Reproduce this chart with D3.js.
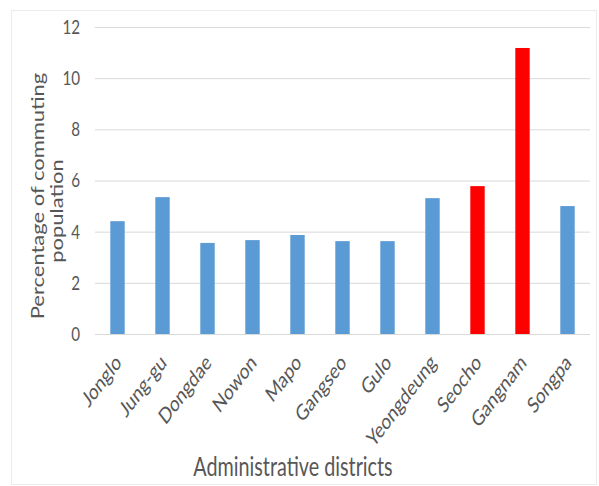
<!DOCTYPE html>
<html>
<head>
<meta charset="utf-8">
<script src="https://cdn.jsdelivr.net/npm/d3@7"></script>
<style>
  html, body { margin: 0; padding: 0; background: #fff; }
  svg { display: block; }
</style>
</head>
<body>
<svg id="chart" width="599" height="486"></svg>
<script>
// Share of commuting population by administrative district (Seoul)
const districts = ["Jonglo", "Jung-gu", "Dongdae", "Nowon", "Mapo", "Gangseo", "Gulo", "Yeongdeung", "Seocho", "Gangnam", "Songpa"];
const commuteShare = [4.41, 5.35, 3.56, 3.67, 3.87, 3.63, 3.63, 5.31, 5.78, 11.18, 5.0];
const highlighted = ["Seocho", "Gangnam"];
const yTicks = [0, 2, 4, 6, 8, 10, 12];

const svg = d3.select("#chart");
const W = 599, H = 486;
const margin = { left: 95, right: 9, top: 27, bottom: 152 };

const font = "Lato, 'Open Sans', sans-serif";
const textColor = "#575757";
const squeeze = 0.76; // narrow, condensed lettering

// outer frame
svg.append("rect")
  .attr("x", 11.5).attr("y", 10.5)
  .attr("width", 585).attr("height", 474)
  .attr("fill", "#fff").attr("stroke", "#ececec").attr("stroke-width", 1);

const x = d3.scaleBand()
  .domain(districts)
  .range([margin.left, W - margin.right])
  .paddingInner(0.68).paddingOuter(0.34);

const y = d3.scaleLinear()
  .domain([0, 12])
  .range([H - margin.bottom, margin.top]);

// gridlines
svg.append("g")
  .selectAll("line")
  .data(yTicks)
  .join("line")
  .attr("x1", margin.left).attr("x2", W - margin.right)
  .attr("y1", d => y(d) + 0.5).attr("y2", d => y(d) + 0.5)
  .attr("stroke", "#d9d9d9").attr("stroke-width", 1);

// y axis tick labels
const yAxis = d3.axisLeft(y).tickValues(yTicks).tickSize(0);
const yg = svg.append("g")
  .attr("transform", `translate(${margin.left},0)`)
  .call(yAxis);
yg.select(".domain").remove();
yg.selectAll("text")
  .attr("x", 0)
  .attr("transform", `translate(-15,0) scale(${squeeze},1)`)
  .attr("font-family", font)
  .attr("font-size", 20)
  .attr("fill", textColor);

// bars
svg.append("g")
  .selectAll("rect")
  .data(districts.map((d, i) => ({ name: d, value: commuteShare[i] })))
  .join("rect")
  .attr("x", d => x(d.name))
  .attr("width", x.bandwidth())
  .attr("y", d => y(d.value))
  .attr("height", d => y(0) - y(d.value))
  .attr("fill", d => highlighted.includes(d.name) ? "#ff0000" : "#5b9bd5");

// x axis category labels, rotated
const xAxis = d3.axisBottom(x).tickSize(0);
const xg = svg.append("g")
  .attr("transform", `translate(0,${y(0)})`)
  .call(xAxis);
xg.select(".domain").remove();
xg.selectAll("text")
  .attr("x", 0).attr("y", 0).attr("dy", null)
  .attr("font-family", font)
  .attr("font-size", 22)
  .attr("fill", textColor)
  .attr("text-anchor", "end")
  .attr("transform", `translate(5,30) scale(${squeeze},1) rotate(-45)`);

// y axis title (two lines)
const yTitle = [
  { text: "Percentage of commuting", cx: 44, cy: 196 },
  { text: "population", cx: 63, cy: 211 }
];
svg.append("g")
  .selectAll("text")
  .data(yTitle)
  .join("text")
  .attr("transform", d => `translate(${d.cx},${d.cy}) scale(${squeeze},1) rotate(-90)`)
  .attr("text-anchor", "middle")
  .attr("font-family", font)
  .attr("font-size", 22)
  .attr("fill", textColor)
  .text(d => d.text);

// x axis title
svg.append("text")
  .attr("transform", `translate(293,476) scale(${squeeze},1)`)
  .attr("text-anchor", "middle")
  .attr("font-family", font)
  .attr("font-size", 26)
  .attr("fill", textColor)
  .text("Administrative districts");
</script>
</body>
</html>
